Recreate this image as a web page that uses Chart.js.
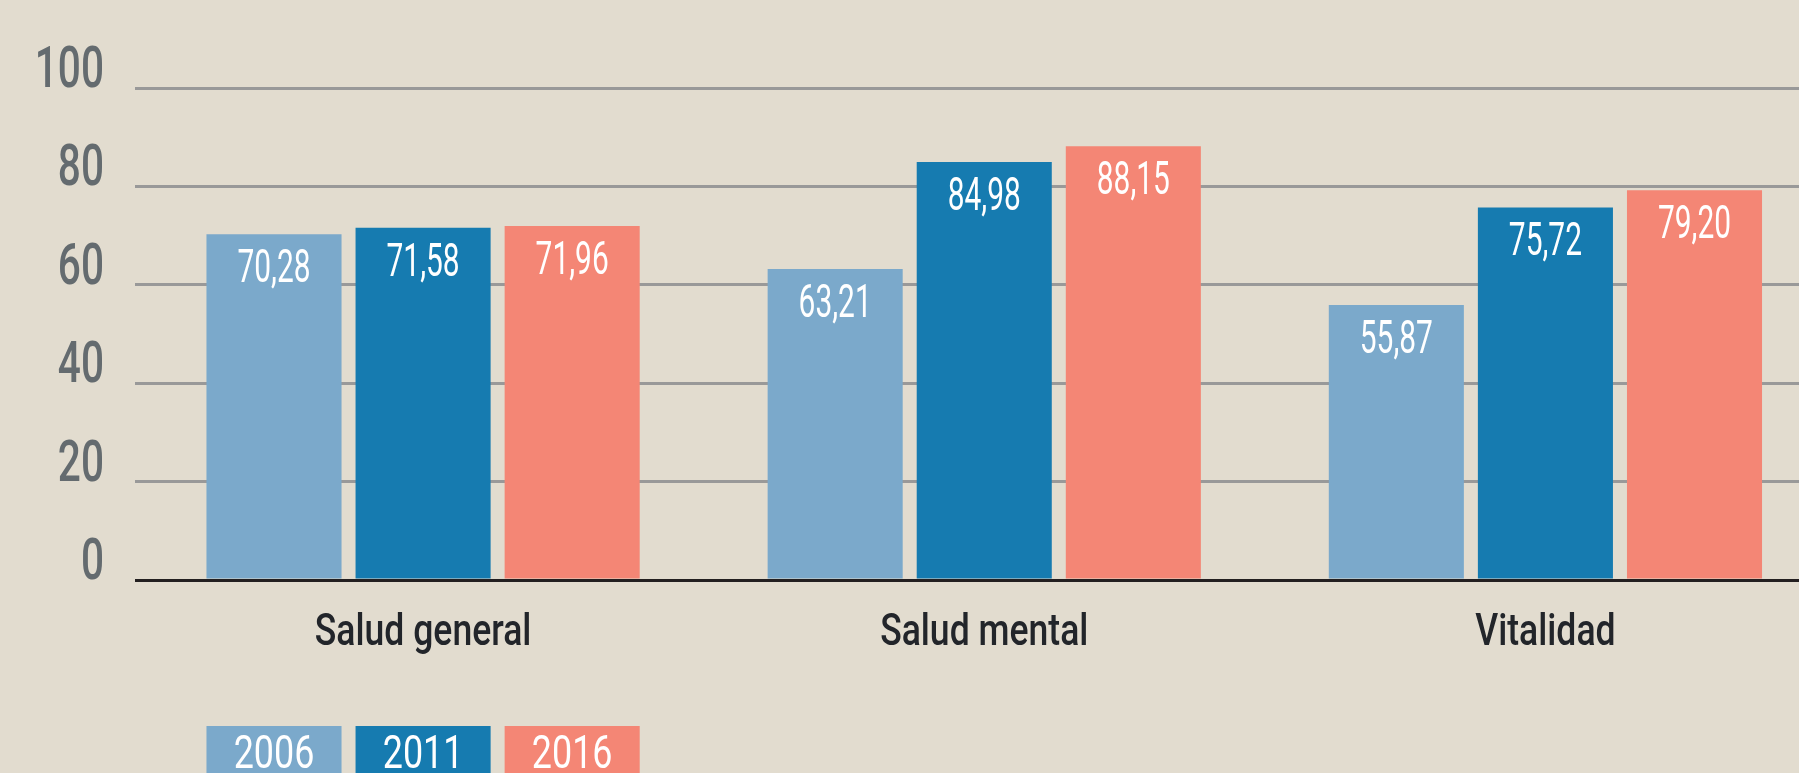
<!DOCTYPE html>
<html lang="es">
    <head>
        <meta charset="utf-8">
        <title>Salud - 2006 / 2011 / 2016</title>
        <script type="text/javascript" src="https://cdn.jsdelivr.net/npm/chart.js@4/dist/chart.umd.min.js"></script>
        <style>
            html, body { margin: 0; padding: 0; background: #e2dccf; overflow: hidden; }
        </style>
    </head>
    <body>
		<div style="position: relative; width: 1826px; height: 773px;">
			<canvas id="salud"></canvas>
		</div>

        <script type="text/javascript">

		// datos
		var categorias = ['Salud general', 'Salud mental', 'Vitalidad'];
		var anios = ['2006', '2011', '2016'];
		var v2006 = [70.28, 63.21, 55.87];
		var v2011 = [71.58, 84.98, 75.72];
		var v2016 = [71.96, 88.15, 79.20];
		var colores = ['#7ba9cb', '#167bb0', '#f48675'];

		var FUENTE = "Roboto, 'Liberation Sans', sans-serif";

		function fmt(v) {
			return v.toFixed(2).replace('.', ',');
		}

		// texto estrechado en horizontal (la fuente original es condensada)
		function texto(ctx, s, x, y, sx, font, color, align) {
			ctx.save();
			ctx.font = font;
			ctx.fillStyle = color;
			ctx.textAlign = align || 'center';
			ctx.textBaseline = 'alphabetic';
			ctx.translate(x, y);
			ctx.scale(sx, 1);
			ctx.fillText(s, 0, 0);
			ctx.restore();
		}

		// etiquetas de ejes, valores dentro de las barras y leyenda en cajas
		var etiquetas = {
			id: 'etiquetas',
			afterDraw(chart) {
				var ctx = chart.ctx;
				var ys = chart.scales.y, xs = chart.scales.x;
				ys.ticks.forEach(function (t) {
					texto(ctx, String(t.value), 104, ys.getPixelForValue(t.value) - 1, 0.7,
						'500 58px ' + FUENTE, '#646b6f', 'right');
				});
				categorias.forEach(function (c, i) {
					texto(ctx, c, xs.getPixelForTick(i), 645, 0.79, '500 45px ' + FUENTE, '#22252a');
				});
				chart.data.datasets.forEach(function (ds, i) {
					var meta = chart.getDatasetMeta(i);
					meta.data.forEach(function (bar, j) {
						texto(ctx, fmt(ds.data[j]), bar.x, bar.y + 48, 0.65, '400 46px ' + FUENTE, '#ffffff');
					});
					// leyenda bajo el primer grupo
					var b = meta.data[0];
					ctx.fillStyle = ds.backgroundColor;
					ctx.fillRect(b.x - b.width / 2, 726, b.width, 60);
					texto(ctx, ds.label, b.x, 768, 0.78, '400 46px ' + FUENTE, '#ffffff');
				});
			}
		};

		var ctx = document.getElementById('salud').getContext('2d');
		new Chart(ctx, {
			type: 'bar',
			data: {
				labels: categorias,
				datasets: [
					{label: anios[0], data: v2006, backgroundColor: colores[0]},
					{label: anios[1], data: v2011, backgroundColor: colores[1]},
					{label: anios[2], data: v2016, backgroundColor: colores[2]},
				]
			},
			options: {
				responsive: true,
				maintainAspectRatio: false,
				animation: false,
				categoryPercentage: 0.797,
				barPercentage: 0.906,
				layout: {padding: {top: 88, right: 0, bottom: 0, left: 0}},
				plugins: {
					legend: {display: false},
					tooltip: {enabled: false},
				},
				scales: {
					x: {
						grid: {display: false},
						border: {display: false},
						ticks: {display: false},
						afterFit: function (s) { s.height = 193; },
					},
					y: {
						min: 0,
						max: 100,
						border: {display: false},
						grid: {
							color: function (c) { return c.tick && c.tick.value === 0 ? '#231f20' : '#999999'; },
							lineWidth: function (c) { return c.tick && c.tick.value === 0 ? 3 : 3; },
							tickLength: 7.5,
						},
						ticks: {stepSize: 20, display: false},
						afterFit: function (s) { s.width = 142.5; },
					}
				}
			},
			plugins: [etiquetas]
		});
        </script>
    </body>
</html>
